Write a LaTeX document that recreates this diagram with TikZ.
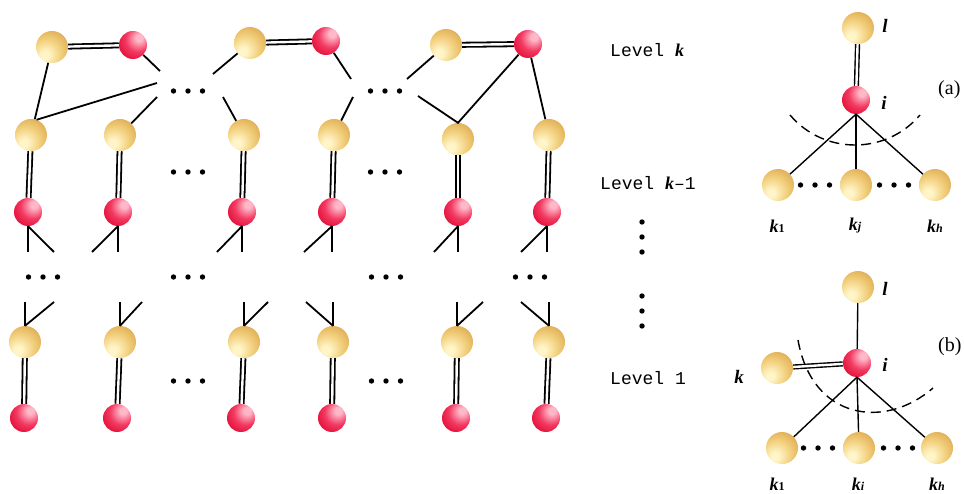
\documentclass[tikz,border=0pt]{standalone}
\usepackage{fontspec}
\setmainfont{Liberation Serif}
\newfontfamily\lvlfont{Liberation Mono}
\definecolor{goldA}{HTML}{FFF5C8}
\definecolor{goldB}{HTML}{F2D07E}
\definecolor{goldC}{HTML}{DEAA50}
\definecolor{goldD}{HTML}{C48A32}
\definecolor{redA}{HTML}{FFB8C8}
\definecolor{redB}{HTML}{F23A62}
\definecolor{redC}{HTML}{E0042E}
\definecolor{redD}{HTML}{B00022}
\pgfdeclareradialshading{goldball}{\pgfpoint{-12bp}{-14bp}}{color(0bp)=(goldA); color(6bp)=(goldA); color(22bp)=(goldB); color(38bp)=(goldC); color(58bp)=(goldD); color(80bp)=(goldD)}
\pgfdeclareradialshading{redball}{\pgfpoint{12bp}{14bp}}{color(0bp)=(redA); color(6bp)=(redA); color(22bp)=(redB); color(40bp)=(redC); color(62bp)=(redD); color(80bp)=(redD)}
\tikzset{
  goldb/.style={circle, minimum size=32pt, inner sep=0pt, shading=goldball},
  redb/.style={circle, minimum size=28pt, inner sep=0pt, shading=redball},
  bond/.style={line width=1.8pt, double, double distance=2.4pt},
  pbond/.style={line width=1.4pt, double, double distance=2.4pt},
  single/.style={line width=1.8pt},
  pline/.style={line width=1.4pt},
  dashline/.style={line width=1.4pt, dash pattern=on 10pt off 6pt},
  lab/.style={font=\fontsize{19}{19}\selectfont\bfseries\itshape, inner sep=0pt},
  klab/.style={font=\fontsize{18}{18}\selectfont\bfseries\itshape, inner sep=0pt},
  lvl/.style={font=\fontsize{18}{18}\selectfont\lvlfont, inner sep=0pt, anchor=west},
  plab/.style={font=\fontsize{20}{20}\selectfont, inner sep=0pt, anchor=west},
  hdots/.pic={\foreach \d in {-14.5,0,14.5} \fill (\d,0) circle[radius=2.7];},
  vdots/.pic={\foreach \d in {-15,0,15} \fill (0,\d) circle[radius=2.7];}
}
\newcommand{\subsc}[1]{{\fontsize{12}{12}\selectfont #1}}
\begin{document}
\begin{tikzpicture}[x=1pt,y=-1pt]
\useasboundingbox (0,0) rectangle (964,494);
% ---------- main lattice ----------
\node[goldb] (A1) at (52,47) {};
\node[redb] (R1) at (133,45) {};
\node[goldb] (A2) at (250,43) {};
\node[redb] (R2) at (326,41) {};
\node[goldb] (A3) at (446,45) {};
\node[redb] (R3) at (528,44) {};
\foreach \n/\x/\y in {1/31/135, 2/120/135, 3/244/135, 4/334/135, 5/458/139, 6/549/135}
  \node[goldb] (G\n) at (\x,\y) {};
\foreach \n/\x in {1/28, 2/118, 3/242, 4/332, 5/458, 6/547}
  \node[redb] (H\n) at (\x,212) {};
\foreach \n/\x in {1/25, 2/120, 3/244, 4/333, 5/457, 6/549}
  \node[goldb] (L\n) at (\x,342) {};
\foreach \n/\x in {1/24, 2/117, 3/241, 4/332, 5/456, 6/546}
  \node[redb] (B\n) at (\x,418) {};
% bonds
\draw[bond] (A1) -- (R1);
\draw[bond] (A2) -- (R2);
\draw[bond] (A3) -- (R3);
\foreach \n in {1,...,6} {
  \draw[bond] (G\n) -- (H\n);
  \draw[bond] (L\n) -- (B\n);
}
% top connectors
\coordinate (t1) at (157,83);
\coordinate (t2) at (160,71);
\coordinate (t3) at (157,97);
\coordinate (t4) at (213,74);
\coordinate (t5) at (223,97);
\coordinate (t6) at (351,79);
\coordinate (t7) at (353,97);
\coordinate (t8) at (407,79);
\coordinate (t9) at (418,96);
\draw[single] (A1) -- (G1);
\draw[single] (G1.70) -- (t1);
\draw[single] (R1) -- (t2);
\draw[single] (G2) -- (t3);
\draw[single] (A2) -- (t4);
\draw[single] (G3) -- (t5);
\draw[single] (R2) -- (t6);
\draw[single] (G4) -- (t7);
\draw[single] (A3) -- (t8);
\draw[single] (t9) -- (G5.north) -- (R3);
\draw[single] (R3) -- (G6);
% stubs below the red row
\foreach \n/\a/\b in {1/28/54, 2/118/92, 3/242/217, 4/332/304, 5/458/434, 6/547/521} {
  \coordinate (dv\n) at (\a,252);
  \coordinate (dd\n) at (\b,252);
  \draw[single] (H\n.south) -- (dv\n);
  \draw[single] (H\n.south) -- (dd\n);
}
% stubs above the lower gold row
\foreach \n/\a/\b in {1/25/54, 2/120/142, 3/244/268, 4/333/306, 5/457/483, 6/549/521} {
  \coordinate (uv\n) at (\a,302);
  \coordinate (ud\n) at (\b,302);
  \draw[single] (uv\n) -- (L\n.north);
  \draw[single] (ud\n) -- (L\n.north);
}
% ellipses
\pic at (188,91) {hdots};
\pic at (385,91) {hdots};
\pic at (188,172) {hdots};
\pic at (385,172) {hdots};
\pic at (43,277) {hdots};
\pic at (188,277) {hdots};
\pic at (386,277) {hdots};
\pic at (530,277) {hdots};
\pic at (188,381) {hdots};
\pic at (386,381) {hdots};
% ---------- level labels ----------
\node[lvl] (lk) at (610,50) {Level \textrm{\bfseries\itshape k}};
\node[lvl] (lk1) at (600,183) {Level \textrm{\bfseries\itshape k}–1};
\node[lvl] (l1) at (610,378) {Level 1};
\pic at (642,237) {vdots};
\pic at (642,311) {vdots};
% ---------- panel (a) ----------
\node[goldb] (al) at (858,28) {};
\node[redb] (ai) at (856,100) {};
\node[goldb] (ak1) at (778,185) {};
\node[goldb] (akj) at (856,185) {};
\node[goldb] (akh) at (935,185) {};
\draw[pbond] (al) -- (ai);
\draw[pline] (ai.south) -- (ak1);
\draw[pline] (ai.south) -- (akj);
\draw[pline] (ai.south) -- (akh);
\draw[dashline] (790,115) .. controls (824,155) and (886,155) .. (920,115);
\pic at (815,185) {hdots};
\pic at (894,185) {hdots};
\node[lab] (tal) at (885,26) {l};
\node[lab] (tai) at (884,103) {i};
\node[plab] (ta) at (938,90) {(a)};
\node[klab] (tak1) at (777,226) {k\subsc{\upshape 1}};
\node[klab] (takj) at (855,226) {k\subsc{j}};
\node[klab] (takh) at (935,226) {k\subsc{h}};
% ---------- panel (b) ----------
\node[goldb] (bl) at (858,287) {};
\node[redb] (bi) at (857,363) {};
\node[goldb] (bk) at (777,368) {};
\node[goldb] (bk1) at (782,448) {};
\node[goldb] (bki) at (859,448) {};
\node[goldb] (bkh) at (937,448) {};
\draw[pline] (bl) -- (bi);
\draw[pbond] (bk) -- (bi);
\draw[pline] (bi.south) -- (bk1);
\draw[pline] (bi.south) -- (bki);
\draw[pline] (bi.south) -- (bkh);
\draw[dashline] (798,340) .. controls (812,420) and (885,430) .. (933,388);
\pic at (818,448) {hdots};
\pic at (898,448) {hdots};
\node[lab] (tbl) at (885,289) {l};
\node[lab] (tbi) at (885,365) {i};
\node[lab] (tbk) at (739,377) {k};
\node[plab] (tb) at (938,347) {(b)};
\node[klab] (tbk1) at (777,484) {k\subsc{\upshape 1}};
\node[klab] (tbki) at (858,484) {k\subsc{i}};
\node[klab] (tbkh) at (937,484) {k\subsc{h}};
\end{tikzpicture}
\end{document}
